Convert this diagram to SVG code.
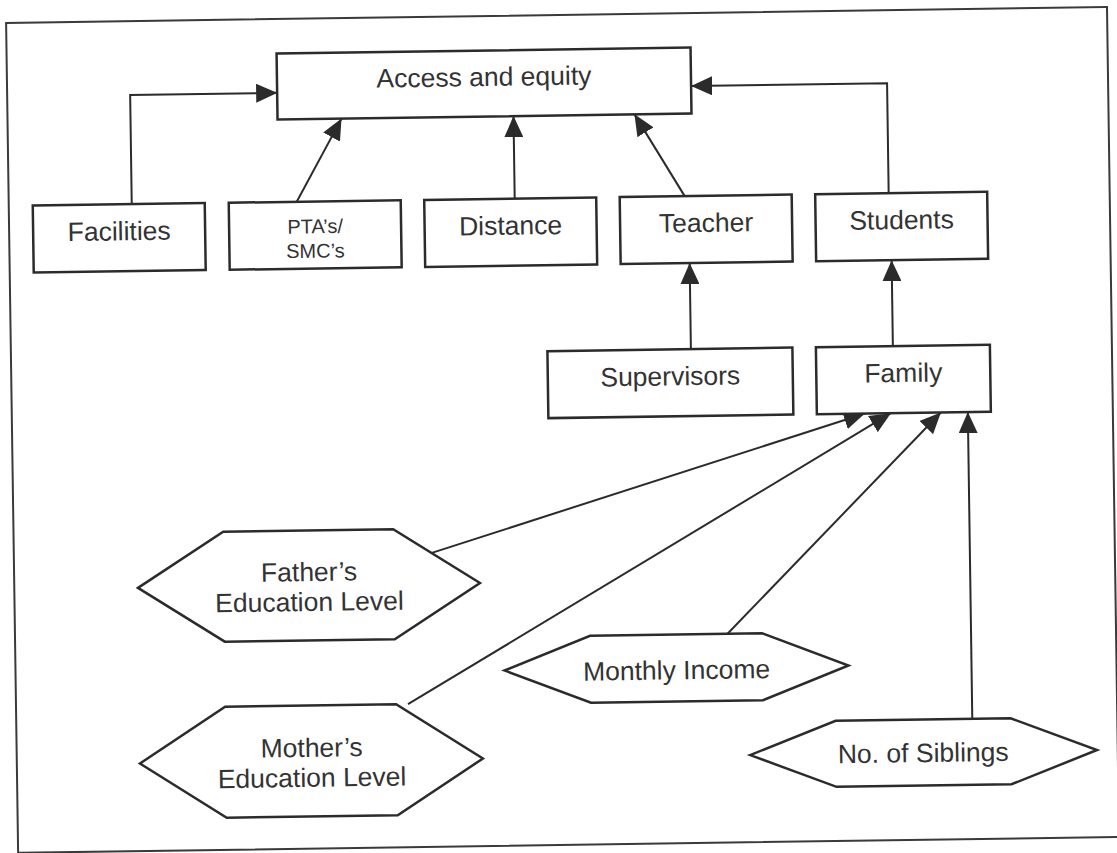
<svg xmlns="http://www.w3.org/2000/svg" width="1117" height="853" viewBox="0 0 1117 853">
<style>
.box{fill:#fff;stroke:#2b2b2b;stroke-width:2.5}
.frame{fill:none;stroke:#3a3a3a;stroke-width:2}
.t{font-family:"Liberation Sans",Arial,sans-serif;font-size:26.5px;fill:#333;text-anchor:middle}
.ts{font-family:"Liberation Sans",Arial,sans-serif;font-size:20px;fill:#333;text-anchor:middle}
.c{fill:none;stroke:#2b2b2b;stroke-width:2;marker-end:url(#ah)}
</style>
<defs>
<marker id="ah" markerUnits="userSpaceOnUse" markerWidth="21" markerHeight="19" refX="21" refY="9.5" orient="auto">
<path d="M0,0 L21,9.5 L0,19 Z" fill="#2b2b2b"/>
</marker>
</defs>
<rect width="1117" height="853" fill="#fff"/>
<g transform="rotate(-0.83 558 426)">
<rect class="frame" x="12" y="15" width="1101" height="830"/>
<g id="connectors">
<path class="c" d="M135,198 V88.8 H282"/>
<path class="c" d="M300,198 L346,115.5"/>
<path class="c" d="M518,198 V115.5"/>
<path class="c" d="M688,198 L639,115.5"/>
<path class="c" d="M892,198 V88 H696"/>
<path class="c" d="M692,351 V265"/>
<path class="c" d="M894,351 V265"/>
<path class="c" d="M430,551 L865,418"/>
<path class="c" d="M404,702 L891,418"/>
<path class="c" d="M724.5,636.2 L941,418"/>
<path class="c" d="M968,724.8 V418"/>
</g>
<g id="access">
<rect class="box" x="282" y="49.5" width="414" height="66"/>
<text class="t" x="489" y="85">Access and equity</text>
</g>
<g id="facilities">
<rect class="box" x="36" y="198" width="172" height="67"/>
<text class="t" x="122" y="234">Facilities</text>
</g>
<g id="ptas">
<rect class="box" x="232" y="198" width="172" height="67"/>
<text class="ts" x="318" y="229.8">PTA’s/</text>
<text class="ts" x="318" y="254.2">SMC’s</text>
</g>
<g id="distance">
<rect class="box" x="427.5" y="198" width="172" height="67"/>
<text class="t" x="513.5" y="234">Distance</text>
</g>
<g id="teacher">
<rect class="box" x="623" y="198" width="172" height="67"/>
<text class="t" x="709" y="234">Teacher</text>
</g>
<g id="students">
<rect class="box" x="818.5" y="198" width="172" height="67"/>
<text class="t" x="904.5" y="234">Students</text>
</g>
<g id="supervisors">
<rect class="box" x="548.5" y="351" width="245" height="67"/>
<text class="t" x="671" y="387">Supervisors</text>
</g>
<g id="family">
<rect class="box" x="817" y="351" width="174" height="67"/>
<text class="t" x="904" y="387">Family</text>
</g>
<g id="father">
<polygon class="box" points="135.7,581.8 221.7,526.8 391.7,526.8 477.7,581.8 391.7,636.8 221.7,636.8"/>
<text class="t" x="307" y="577.4">Father’s</text>
<text class="t" x="307" y="607.4">Education Level</text>
</g>
<g id="mother">
<polygon class="box" points="135.1,757.4 221.1,701.9 392.1,701.9 478.1,757.4 392.1,812.9 221.1,812.9"/>
<text class="t" x="307" y="753.2">Mother’s</text>
<text class="t" x="307" y="783.2">Education Level</text>
</g>
<g id="income">
<polygon class="box" points="501,669.7 587,636.2 759,636.2 845,669.7 759,703.2 587,703.2"/>
<text class="t" x="673" y="681">Monthly Income</text>
</g>
<g id="siblings">
<polygon class="box" points="745.3,757.8 831.3,724.8 1006.3,724.8 1092.3,757.8 1006.3,790.8 831.3,790.8"/>
<text class="t" x="918.5" y="767.3">No. of Siblings</text>
</g>
</g>
</svg>
